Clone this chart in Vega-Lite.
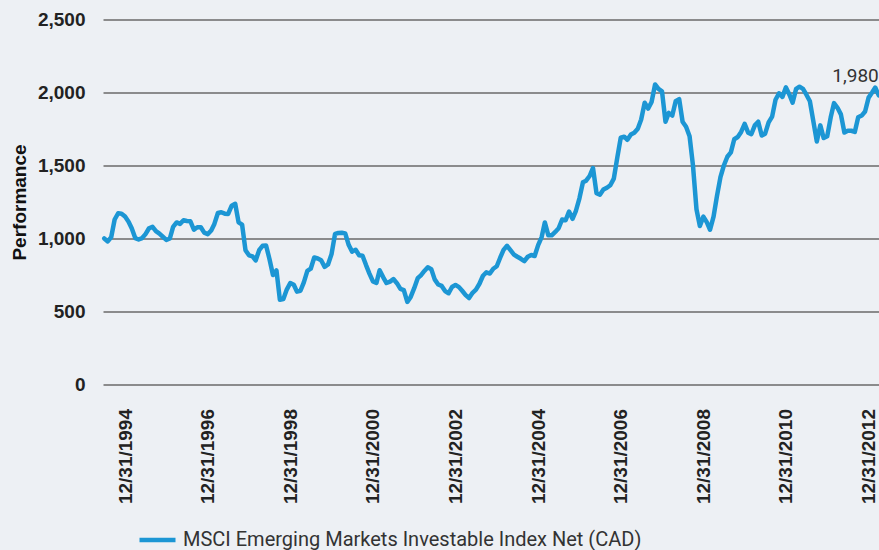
{
"$schema": "https://vega.github.io/schema/vega-lite/v6.json",
"width": 776,
"height": 365,
"autosize": {"type": "none"},
"padding": {"left": 103, "top": 19.5, "right": 0, "bottom": 165.5},
"background": "#edf0f4",
"config": {"view": {"stroke": null}, "font": "Liberation Sans"},
"layer": [
{
"data": {"format": {"parse": {"d": "utc:'%Y-%m-%d'"}}, "values": [
{"d":"1994-06-30","v":1000},{"d":"1994-07-31","v":980},{"d":"1994-08-31","v":1010},{"d":"1994-09-30","v":1130},{"d":"1994-10-31","v":1173},{"d":"1994-11-30","v":1170},{"d":"1994-12-31","v":1150},
{"d":"1995-01-31","v":1115},{"d":"1995-02-28","v":1070},{"d":"1995-03-31","v":1003},{"d":"1995-04-30","v":993},{"d":"1995-05-31","v":1003},{"d":"1995-06-30","v":1030},{"d":"1995-07-31","v":1070},{"d":"1995-08-31","v":1080},{"d":"1995-09-30","v":1050},{"d":"1995-10-31","v":1033},{"d":"1995-11-30","v":1012},{"d":"1995-12-31","v":990},
{"d":"1996-01-31","v":1000},{"d":"1996-02-29","v":1080},{"d":"1996-03-31","v":1110},{"d":"1996-04-30","v":1100},{"d":"1996-05-31","v":1125},{"d":"1996-06-30","v":1120},{"d":"1996-07-31","v":1118},{"d":"1996-08-31","v":1060},{"d":"1996-09-30","v":1077},{"d":"1996-10-31","v":1077},{"d":"1996-11-30","v":1040},{"d":"1996-12-31","v":1030},
{"d":"1997-01-31","v":1055},{"d":"1997-02-28","v":1100},{"d":"1997-03-31","v":1175},{"d":"1997-04-30","v":1180},{"d":"1997-05-31","v":1170},{"d":"1997-06-30","v":1168},{"d":"1997-07-31","v":1225},{"d":"1997-08-31","v":1238},{"d":"1997-09-30","v":1110},{"d":"1997-10-31","v":1095},{"d":"1997-11-30","v":920},{"d":"1997-12-31","v":885},
{"d":"1998-01-31","v":878},{"d":"1998-02-28","v":850},{"d":"1998-03-31","v":920},{"d":"1998-04-30","v":950},{"d":"1998-05-31","v":952},{"d":"1998-06-30","v":860},{"d":"1998-07-31","v":750},{"d":"1998-08-31","v":781},{"d":"1998-09-30","v":581},{"d":"1998-10-31","v":586},{"d":"1998-11-30","v":650},{"d":"1998-12-31","v":695},
{"d":"1999-01-31","v":683},{"d":"1999-02-28","v":636},{"d":"1999-03-31","v":642},{"d":"1999-04-30","v":700},{"d":"1999-05-31","v":778},{"d":"1999-06-30","v":793},{"d":"1999-07-31","v":870},{"d":"1999-08-31","v":863},{"d":"1999-09-30","v":851},{"d":"1999-10-31","v":806},{"d":"1999-11-30","v":822},{"d":"1999-12-31","v":893},
{"d":"2000-01-31","v":1032},{"d":"2000-02-29","v":1038},{"d":"2000-03-31","v":1039},{"d":"2000-04-30","v":1035},{"d":"2000-05-31","v":955},{"d":"2000-06-30","v":910},{"d":"2000-07-31","v":923},{"d":"2000-08-31","v":885},{"d":"2000-09-30","v":882},{"d":"2000-10-31","v":818},{"d":"2000-11-30","v":760},{"d":"2000-12-31","v":706},
{"d":"2001-01-31","v":696},{"d":"2001-02-28","v":783},{"d":"2001-03-31","v":736},{"d":"2001-04-30","v":695},{"d":"2001-05-31","v":705},{"d":"2001-06-30","v":722},{"d":"2001-07-31","v":694},{"d":"2001-08-31","v":655},{"d":"2001-09-30","v":646},{"d":"2001-10-31","v":566},{"d":"2001-11-30","v":600},{"d":"2001-12-31","v":660},
{"d":"2002-01-31","v":728},{"d":"2002-02-28","v":748},{"d":"2002-03-31","v":778},{"d":"2002-04-30","v":803},{"d":"2002-05-31","v":790},{"d":"2002-06-30","v":720},{"d":"2002-07-31","v":685},{"d":"2002-08-31","v":675},{"d":"2002-09-30","v":640},{"d":"2002-10-31","v":625},{"d":"2002-11-30","v":668},{"d":"2002-12-31","v":682},
{"d":"2003-01-31","v":667},{"d":"2003-02-28","v":642},{"d":"2003-03-31","v":612},{"d":"2003-04-30","v":592},{"d":"2003-05-31","v":628},{"d":"2003-06-30","v":650},{"d":"2003-07-31","v":690},{"d":"2003-08-31","v":745},{"d":"2003-09-30","v":768},{"d":"2003-10-31","v":760},{"d":"2003-11-30","v":793},{"d":"2003-12-31","v":810},
{"d":"2004-01-31","v":870},{"d":"2004-02-29","v":922},{"d":"2004-03-31","v":950},{"d":"2004-04-30","v":920},{"d":"2004-05-31","v":890},{"d":"2004-06-30","v":875},{"d":"2004-07-31","v":861},{"d":"2004-08-31","v":845},{"d":"2004-09-30","v":875},{"d":"2004-10-31","v":887},{"d":"2004-11-30","v":880},{"d":"2004-12-31","v":955},
{"d":"2005-01-31","v":1010},{"d":"2005-02-28","v":1110},{"d":"2005-03-31","v":1022},{"d":"2005-04-30","v":1022},{"d":"2005-05-31","v":1045},{"d":"2005-06-30","v":1070},{"d":"2005-07-31","v":1130},{"d":"2005-08-31","v":1125},{"d":"2005-09-30","v":1185},{"d":"2005-10-31","v":1135},{"d":"2005-11-30","v":1190},{"d":"2005-12-31","v":1275},
{"d":"2006-01-31","v":1385},{"d":"2006-02-28","v":1396},{"d":"2006-03-31","v":1428},{"d":"2006-04-30","v":1483},{"d":"2006-05-31","v":1310},{"d":"2006-06-30","v":1300},{"d":"2006-07-31","v":1335},{"d":"2006-08-31","v":1348},{"d":"2006-09-30","v":1365},{"d":"2006-10-31","v":1410},{"d":"2006-11-30","v":1550},{"d":"2006-12-31","v":1690},
{"d":"2007-01-31","v":1697},{"d":"2007-02-28","v":1676},{"d":"2007-03-31","v":1712},{"d":"2007-04-30","v":1724},{"d":"2007-05-31","v":1752},{"d":"2007-06-30","v":1815},{"d":"2007-07-31","v":1930},{"d":"2007-08-31","v":1890},{"d":"2007-09-30","v":1935},{"d":"2007-10-31","v":2055},{"d":"2007-11-30","v":2025},{"d":"2007-12-31","v":2008},
{"d":"2008-01-31","v":1800},{"d":"2008-02-29","v":1860},{"d":"2008-03-31","v":1842},{"d":"2008-04-30","v":1940},{"d":"2008-05-31","v":1955},{"d":"2008-06-30","v":1800},{"d":"2008-07-31","v":1765},{"d":"2008-08-31","v":1700},{"d":"2008-09-30","v":1500},{"d":"2008-10-31","v":1200},{"d":"2008-11-30","v":1085},{"d":"2008-12-31","v":1150},
{"d":"2009-01-31","v":1110},{"d":"2009-02-28","v":1060},{"d":"2009-03-31","v":1150},{"d":"2009-04-30","v":1290},{"d":"2009-05-31","v":1420},{"d":"2009-06-30","v":1500},{"d":"2009-07-31","v":1560},{"d":"2009-08-31","v":1590},{"d":"2009-09-30","v":1680},{"d":"2009-10-31","v":1695},{"d":"2009-11-30","v":1730},{"d":"2009-12-31","v":1785},
{"d":"2010-01-31","v":1725},{"d":"2010-02-28","v":1715},{"d":"2010-03-31","v":1775},{"d":"2010-04-30","v":1800},{"d":"2010-05-31","v":1705},{"d":"2010-06-30","v":1718},{"d":"2010-07-31","v":1795},{"d":"2010-08-31","v":1835},{"d":"2010-09-30","v":1950},{"d":"2010-10-31","v":1995},{"d":"2010-11-30","v":1970},{"d":"2010-12-31","v":2035},
{"d":"2011-01-31","v":1985},{"d":"2011-02-28","v":1930},{"d":"2011-03-31","v":2025},{"d":"2011-04-30","v":2040},{"d":"2011-05-31","v":2025},{"d":"2011-06-30","v":1985},{"d":"2011-07-31","v":1940},{"d":"2011-08-31","v":1800},{"d":"2011-09-30","v":1665},{"d":"2011-10-31","v":1775},{"d":"2011-11-30","v":1688},{"d":"2011-12-31","v":1700},
{"d":"2012-01-31","v":1830},{"d":"2012-02-29","v":1927},{"d":"2012-03-31","v":1895},{"d":"2012-04-30","v":1850},{"d":"2012-05-31","v":1726},{"d":"2012-06-30","v":1738},{"d":"2012-07-31","v":1738},{"d":"2012-08-31","v":1730},{"d":"2012-09-30","v":1830},{"d":"2012-10-31","v":1842},{"d":"2012-11-30","v":1870},{"d":"2012-12-31","v":1965},
{"d":"2013-01-31","v":2000},{"d":"2013-02-28","v":2034},{"d":"2013-03-31","v":1980}
]},
"mark": {"type": "line", "strokeWidth": 4.5, "strokeJoin": "round", "strokeCap": "round"},
"encoding": {
"x": {"field": "d", "type": "temporal",
"scale": {"type": "utc", "domain": [{"year": 1994, "month": 6, "date": 19, "utc": true}, {"year": 2013, "month": 4, "date": 2, "utc": true}]},
"axis": {"title": null, "format": "%m/%d/%Y", "labelAngle": -90, "grid": false, "domain": false, "ticks": false, "labelPadding": 24, "labelFontSize": 19, "labelFontWeight": "bold", "labelColor": "#222222", "labelOverlap": false, "labelFlush": false, "labelBound": false,
"values": [{"year":1994,"month":12,"date":31,"utc":true},{"year":1996,"month":12,"date":31,"utc":true},{"year":1998,"month":12,"date":31,"utc":true},{"year":2000,"month":12,"date":31,"utc":true},{"year":2002,"month":12,"date":31,"utc":true},{"year":2004,"month":12,"date":31,"utc":true},{"year":2006,"month":12,"date":31,"utc":true},{"year":2008,"month":12,"date":31,"utc":true},{"year":2010,"month":12,"date":31,"utc":true},{"year":2012,"month":12,"date":31,"utc":true}]}},
"y": {"field": "v", "type": "quantitative",
"scale": {"domain": [0, 2500], "nice": false},
"axis": {"title": "Performance", "values": [0, 500, 1000, 1500, 2000, 2500], "format": ",.0f", "grid": true, "gridColor": "#6a6a6a", "gridWidth": 1.6, "domain": false, "ticks": false, "labelPadding": 18, "labelFontSize": 19, "labelFontWeight": "bold", "labelColor": "#222222", "titleFontSize": 19, "titleFontWeight": "bold", "titleColor": "#111111", "titlePadding": 8}},
"color": {"datum": "MSCI Emerging Markets Investable Index Net (CAD)", "type": "nominal",
"scale": {"range": ["#1c96d4"]},
"legend": {"title": null, "orient": "none", "legendX": 34, "legendY": 500, "padding": 0, "symbolType": "stroke", "symbolSize": 1296, "symbolStrokeWidth": 4.5, "labelFontSize": 20, "labelFont": "Roboto", "labelColor": "#333333", "labelOffset": 5, "labelLimit": 0}}
}
},
{
"data": {"format": {"parse": {"d": "utc:'%Y-%m-%d'"}}, "values": [{"d": "2013-03-31", "v": 1980}]},
"mark": {"type": "text", "align": "right", "baseline": "alphabetic", "dy": -13, "fontSize": 19, "font": "Roboto", "color": "#333333"},
"encoding": {
"x": {"field": "d", "type": "temporal"},
"y": {"field": "v", "type": "quantitative"},
"text": {"field": "v", "type": "quantitative", "format": ","}
}
}
]
}
